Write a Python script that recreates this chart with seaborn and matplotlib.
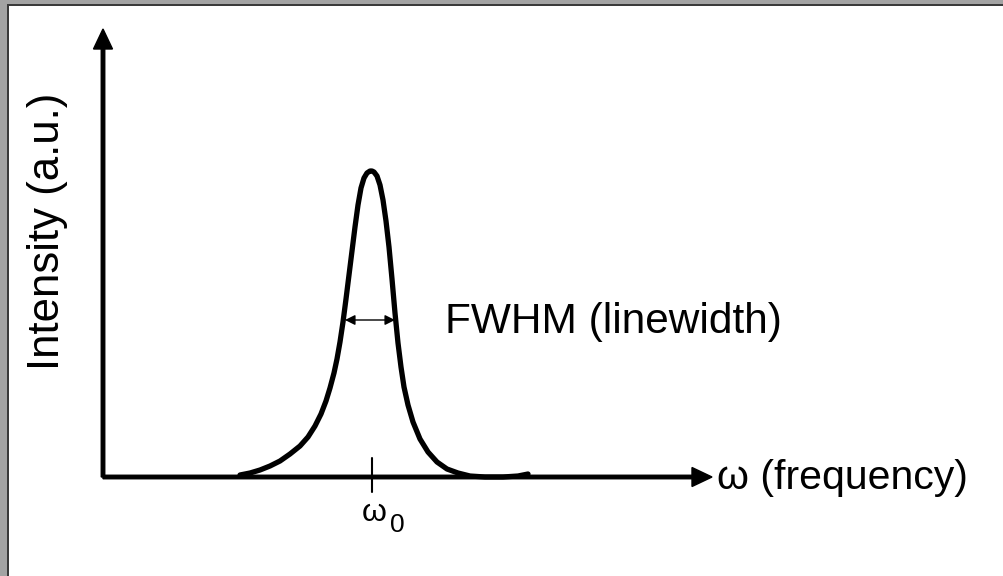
import matplotlib
matplotlib.use("Agg")
import matplotlib.pyplot as plt
import seaborn as sns
import pandas as pd
from matplotlib.patches import Rectangle

# Curve: frequency (px units) and intensity (a.u., px above baseline)
frequency = [240, 250, 260, 270, 280, 290, 300, 308, 315, 321, 326, 330, 334, 337, 340,
             343, 346, 349, 352, 355, 358, 361, 364, 367, 370, 372,
             374, 377, 380, 383, 386, 389, 392, 395, 398, 401, 404, 408, 413, 420,
             428, 437, 447, 458, 470, 485, 503, 518, 528]
intensity = [2, 4, 7, 11, 16, 23, 31, 40, 51, 63, 76, 89, 104, 118, 135,
             155, 178, 202, 226, 250, 272, 289, 299, 304, 306, 306,
             305, 301, 292, 277, 256, 230, 198, 164, 134, 110, 90, 72, 55, 38,
             25, 15, 8, 4, 1, 0, 0, 1, 3]

omega0 = 372
fwhm_left, fwhm_right, fwhm_level = 345, 395, 157
x_axis_end, y_axis_end = 712, 448

x_label = "ω (frequency)"
y_label = "Intensity (a.u.)"
fwhm_label = "FWHM (linewidth)"
tick_label_main = "ω"
tick_label_sub = "0"

sns.set_theme(style="white")
plt.rcParams["font.family"] = ["Liberation Sans", "DejaVu Sans"]

fig = plt.figure(figsize=(10.04, 5.76), dpi=100)
ax = fig.add_axes([0, 0, 1, 1])
ax.set_xlim(0, 1004)
ax.set_ylim(-99, 477)
ax.axis("off")

df = pd.DataFrame({"frequency": frequency, "intensity": intensity})
sns.lineplot(data=df, x="frequency", y="intensity", ax=ax, color="black",
             linewidth=3.8, sort=False, estimator=None,
             solid_capstyle="round", solid_joinstyle="round")

# axes arrows
ax.arrow(103, 0, x_axis_end - 103, 0, width=3.5, head_width=19, head_length=20,
         length_includes_head=True, color="black", zorder=3)
ax.arrow(103, 0, 0, y_axis_end, width=3.5, head_width=19, head_length=20,
         length_includes_head=True, color="black", zorder=3)

# tick at omega0
ax.plot([omega0, omega0], [19, -15], color="black", lw=1.5)

# FWHM arrow
ax.annotate("", xy=(fwhm_left, fwhm_level), xytext=(fwhm_right, fwhm_level),
            arrowprops=dict(arrowstyle="<|-|>,head_length=0.5,head_width=0.25",
                            color="black", lw=1.0, shrinkA=0, shrinkB=0))

ax.text(717, -1, x_label, ha="left", va="center", fontsize=29.5, color="black")
ax.text(445, 155, fwhm_label, ha="left", va="center", fontsize=30.5, color="black")
ax.text(48, 246, y_label, ha="center", va="center", rotation=90, fontsize=31.5, color="black")
ax.text(374, -36, tick_label_main, ha="center", va="center", fontsize=23, color="black")
ax.text(397, -48, tick_label_sub, ha="center", va="center", fontsize=19, color="black")

# window border (gray frame on top and left)
W, H = 1004, 576
fig.patches.append(Rectangle((0, 0), 7 / W, 1, transform=fig.transFigure,
                             facecolor="#a3a3a3", edgecolor="none", zorder=10))
fig.patches.append(Rectangle((7 / W, 0), 2 / W, 1 - 4 / H, transform=fig.transFigure,
                             facecolor="#3a3a3a", edgecolor="none", zorder=11))
fig.patches.append(Rectangle((0, 1 - 4 / H), 1, 4 / H, transform=fig.transFigure,
                             facecolor="#a3a3a3", edgecolor="none", zorder=10))
fig.patches.append(Rectangle((7 / W, 1 - 6 / H), 1, 2 / H, transform=fig.transFigure,
                             facecolor="#3a3a3a", edgecolor="none", zorder=11))

fig.savefig("out.png", dpi=100, facecolor="white")
